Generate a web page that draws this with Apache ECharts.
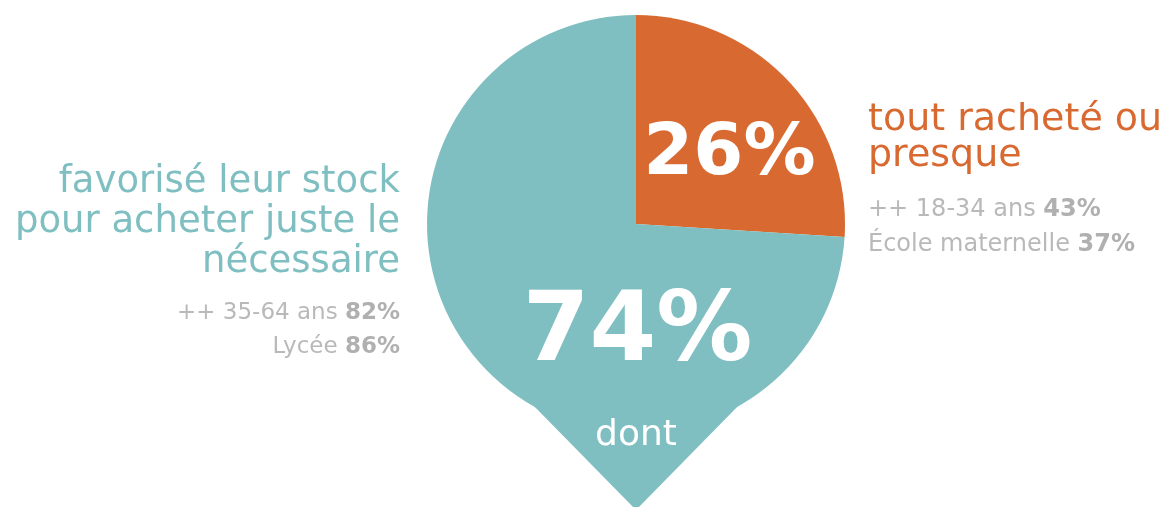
<!DOCTYPE html>
<html>
<head>
<meta charset="utf-8">
<script src="https://cdn.jsdelivr.net/npm/echarts@6/dist/echarts.min.js"></script>
<style>html,body{margin:0;padding:0;background:#fff;}#c{width:1165px;height:507px;}</style>
</head>
<body>
<div id="c"></div>
<script>
// ---- data ----
var categories = ['tout racheté ou presque', 'favorisé leur stock pour acheter juste le nécessaire'];
var values = [26, 74];
var colors = ['#d86a31', '#7fbfc1'];
var rightTitle = ['tout racheté ou', 'presque'];
var rightDetails = [['++ 18-34 ans ', '43%'], ['École maternelle ', '37%']];
var leftTitle = ['favorisé leur stock', 'pour acheter juste le', 'nécessaire'];
var leftDetails = [['++ 35-64 ans ', '82%'], ['Lycée ', '86%']];
var footLabel = 'dont';

// ---- layout ----
var FONT = '"DejaVu Sans", sans-serif';
var cx = 636, cy = 224, R = 209;
var grey = '#b9b9b9';

var chart = echarts.init(document.getElementById('c'), null, {renderer: 'canvas'});

var labelOffsets = [[15, 5], [80, 37]];
var labelSizes = [72, 96];

var graphics = [];
// pointer under the pie
graphics.push({
  type: 'polygon', z: 0,
  shape: {points: [[cx - 106, cy + 178], [cx + 106, cy + 178], [cx, cy + 286]]},
  style: {fill: colors[1]}
});
graphics.push({
  type: 'text', z: 100,
  x: cx, y: 436,
  style: {text: footLabel, fill: '#fff', font: '36px ' + FONT, textAlign: 'center', textVerticalAlign: 'middle'}
});
function titleLine(txt, x, y, align, color, size) {
  graphics.push({
    type: 'text', z: 100, x: x, y: y,
    style: {text: txt, fill: color, font: size + 'px ' + FONT, textAlign: align, textVerticalAlign: 'middle'}
  });
}
function detailLine(parts, x, y, align, size) {
  graphics.push({
    type: 'text', z: 100, x: x, y: y,
    style: {
      text: '{n|' + parts[0] + '}{b|' + parts[1] + '}',
      textAlign: align, textVerticalAlign: 'middle',
      rich: {
        n: {fill: grey, font: size + 'px ' + FONT},
        b: {fill: '#b0b0b0', font: 'bold ' + size + 'px ' + FONT}
      }
    }
  });
}
leftTitle.forEach(function (t, i) { titleLine(t, 400, 182 + i * 40, 'right', colors[1], 37); });
leftDetails.forEach(function (p, i) { detailLine(p, 400, 313 + i * 34, 'right', 23); });
rightTitle.forEach(function (t, i) { titleLine(t, 868, 120 + i * 36, 'left', colors[0], 38); });
rightDetails.forEach(function (p, i) { detailLine(p, 868, 210 + i * 35, 'left', 24); });

var pieData = categories.map(function (name, i) {
  return {
    name: name, value: values[i],
    itemStyle: {color: colors[i]},
    label: {
      show: true, position: 'inside', offset: labelOffsets[i],
      formatter: function (p) { return p.value + '%'; },
      color: '#fff', fontFamily: FONT, fontWeight: 'bold', fontSize: labelSizes[i]
    }
  };
});

chart.setOption({
  backgroundColor: '#fff',
  animation: false,
  series: [{
    type: 'pie', z: 2,
    center: [cx, cy], radius: [0, R],
    startAngle: 90, clockwise: true,
    avoidLabelOverlap: false,
    silent: true,
    itemStyle: {borderWidth: 0},
    labelLine: {show: false},
    emphasis: {disabled: true},
    data: pieData
  }],
  graphic: graphics
});
</script>
</body>
</html>
